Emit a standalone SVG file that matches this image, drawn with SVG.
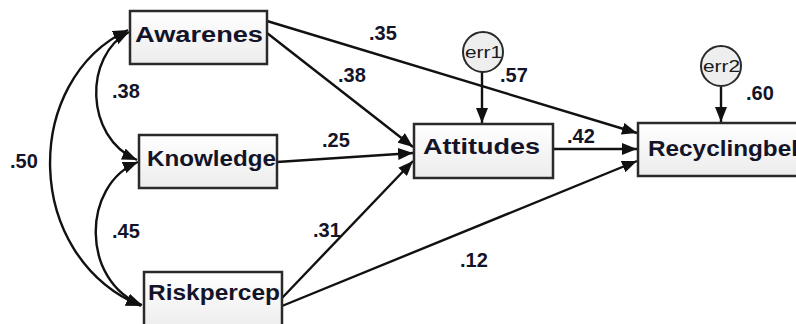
<svg xmlns="http://www.w3.org/2000/svg" width="796" height="324" viewBox="0 0 796 324">
<defs>
<marker id="ah" markerUnits="userSpaceOnUse" markerWidth="16" markerHeight="12" refX="15" refY="6" orient="auto-start-reverse">
<path d="M0,0 L15,6 L0,12 z" fill="#111"/>
</marker>
<linearGradient id="bg" x1="0" y1="0" x2="0" y2="1">
<stop offset="0" stop-color="#ffffff"/>
<stop offset="1" stop-color="#ececec"/>
</linearGradient>
</defs>
<style>
.box{fill:url(#bg);stroke:#2a2a2a;stroke-width:2.5}
.nl{font-family:"Liberation Sans",Arial,sans-serif;font-weight:bold;font-size:22px;fill:#141428}
.num{font-family:"Liberation Sans",Arial,sans-serif;font-weight:bold;font-size:20px;fill:#141428}
.err{fill:#eeeeee;stroke:#2a2a2a;stroke-width:2}
.et{font-family:"Liberation Sans",Arial,sans-serif;font-size:17px;fill:#1a1a1a}
.c{fill:none;stroke:#111;stroke-width:2.4}
</style>
<rect width="796" height="324" fill="#fff"/>
<g id="connectors">
<path class="c" d="M267,21 L637,133" marker-end="url(#ah)"/>
<path class="c" d="M267,33 L413,147" marker-end="url(#ah)"/>
<path class="c" d="M277,162 L413,153" marker-end="url(#ah)"/>
<path class="c" d="M282,298 L413,161" marker-end="url(#ah)"/>
<path class="c" d="M282,306 L637,161" marker-end="url(#ah)"/>
<path class="c" d="M553,149 L637,149" marker-end="url(#ah)"/>
<path class="c" d="M482,72 L482,123" marker-end="url(#ah)"/>
<path class="c" d="M721,87 L721,122" marker-end="url(#ah)"/>
<path class="c" d="M129,32 C84,55 84,137 137,160" marker-start="url(#ah)" marker-end="url(#ah)"/>
<path class="c" d="M138,162 C81,185 81,282 142,305" marker-start="url(#ah)" marker-end="url(#ah)"/>
<path class="c" d="M128,30 C22,80 22,256 141,306" marker-start="url(#ah)" marker-end="url(#ah)"/>
</g>
<g id="Awarenes">
<rect class="box" x="130" y="11" width="137" height="53"/>
<text class="nl" x="135" y="42" textLength="128" lengthAdjust="spacingAndGlyphs">Awarenes</text>
</g>
<g id="Knowledge">
<rect class="box" x="139" y="135" width="138" height="53"/>
<text class="nl" x="147" y="166" textLength="129" lengthAdjust="spacingAndGlyphs">Knowledge</text>
</g>
<g id="Riskpercep">
<rect class="box" x="144" y="272" width="138" height="60"/>
<text class="nl" x="148" y="300" textLength="132" lengthAdjust="spacingAndGlyphs">Riskpercep</text>
</g>
<g id="Attitudes">
<rect class="box" x="414" y="124" width="139" height="54"/>
<text class="nl" x="423" y="154" textLength="117" lengthAdjust="spacingAndGlyphs">Attitudes</text>
</g>
<g id="Recyclingbel">
<rect class="box" x="638" y="123" width="170" height="53"/>
<text class="nl" x="648" y="156" textLength="150" lengthAdjust="spacingAndGlyphs">Recyclingbel</text>
</g>
<g id="err1">
<circle class="err" cx="483" cy="52" r="20"/>
<text class="et" x="465" y="58" textLength="37" lengthAdjust="spacingAndGlyphs">err1</text>
</g>
<g id="err2">
<circle class="err" cx="721" cy="66" r="20"/>
<text class="et" x="703" y="72" textLength="37" lengthAdjust="spacingAndGlyphs">err2</text>
</g>
<g id="labels">
<text class="num" x="369" y="40">.35</text>
<text class="num" x="338" y="82">.38</text>
<text class="num" x="500" y="82">.57</text>
<text class="num" x="322" y="147">.25</text>
<text class="num" x="567" y="143">.42</text>
<text class="num" x="746" y="100">.60</text>
<text class="num" x="313" y="237">.31</text>
<text class="num" x="460" y="267">.12</text>
<text class="num" x="112" y="98">.38</text>
<text class="num" x="10" y="168">.50</text>
<text class="num" x="112" y="238">.45</text>
</g>
</svg>
